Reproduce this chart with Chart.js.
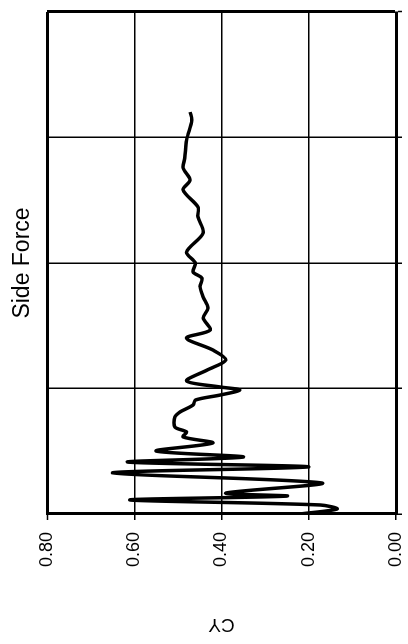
<!DOCTYPE html>
<html>
<head>
<meta charset="utf-8">
<script src="https://cdn.jsdelivr.net/npm/chart.js@4/dist/chart.umd.min.js"></script>
<style>
  html, body { margin: 0; padding: 0; background: #fff; overflow: hidden; }
  /* chart is drawn landscape, then turned a quarter left like the scan */
  #wrap {
    position: absolute; left: 0; top: 0;
    width: 644px; height: 408px;
    transform-origin: 0 0;
    transform: translateY(644px) rotate(-90deg);
  }
</style>
</head>
<body>
<div id="wrap"><canvas id="sideForceChart" width="644" height="408"></canvas></div>
<script>
  const timeSteps = [
    0, 0.040, 0.072, 0.112, 0.143, 0.167, 0.247, 0.327, 0.375, 0.414,
    0.454, 0.502, 0.566, 0.614, 0.653, 0.693, 0.773, 0.813, 0.869, 0.908,
    0.948, 0.988, 1.012, 1.060, 1.147, 1.227, 1.307, 1.402, 1.466, 1.562,
    1.641, 1.729, 1.809, 1.880, 1.928, 2.000, 2.088, 2.239, 2.367, 2.446,
    2.582, 2.661, 2.757, 2.837, 2.980, 3.139, 3.203
  ];

  const cyValues = [
    0.22, 0.135, 0.174, 0.61, 0.25, 0.39, 0.17, 0.65, 0.20, 0.615,
    0.35, 0.55, 0.42, 0.488, 0.48, 0.507, 0.507, 0.495, 0.465, 0.46,
    0.403, 0.358, 0.403, 0.48, 0.433, 0.39, 0.42, 0.48, 0.426, 0.442,
    0.431, 0.442, 0.449, 0.445, 0.465, 0.46, 0.48, 0.442, 0.454, 0.454,
    0.488, 0.472, 0.488, 0.484, 0.48, 0.468, 0.472
  ];

  const cyTicks = [0.0, 0.2, 0.4, 0.6, 0.8];
  const timeTicks = [0, 1, 2, 3, 4];

  Chart.defaults.font.family = '"Liberation Sans", Arial, sans-serif';
  Chart.defaults.color = '#000';

  const points = timeSteps.map((t, i) => ({ x: t, y: cyValues[i] }));

  const ctx = document.getElementById('sideForceChart').getContext('2d');

  const sideForceChart = new Chart(ctx, {
    type: 'line',
    data: {
      datasets: [
        {
          label: 'CY',
          data: points,
          borderColor: '#000',
          borderWidth: 3.5,
          pointRadius: 0,
          fill: false,
          tension: 0.3
        }
      ]
    },
    options: {
      responsive: false,
      animation: false,
      layout: {
        padding: { left: 0, right: 12, top: 0, bottom: 0 }
      },
      plugins: {
        legend: { display: false },
        tooltip: { enabled: false },
        title: {
          display: true,
          text: 'Side Force',
          fullSize: false,
          font: { size: 23, weight: 'normal' },
          padding: { top: 9, bottom: 10.4 }
        }
      },
      scales: {
        x: {
          type: 'linear',
          min: 0,
          max: 4,
          afterBuildTicks: s => { s.ticks = timeTicks.map(v => ({ value: v })); },
          afterFit: s => { s.height = 12; },
          ticks: { display: false },
          border: { color: '#000', width: 3 },
          grid: {
            color: '#000',
            lineWidth: c => (c.index === timeTicks.length - 1 ? 3 : 1.5),
            tickLength: 6,
            tickWidth: 1.5,
            tickColor: '#000'
          }
        },
        y: {
          type: 'linear',
          min: 0,
          max: 0.8,
          afterBuildTicks: s => { s.ticks = cyTicks.map(v => ({ value: v })); },
          afterFit: s => {
            s.width = 130;
            // let the end labels hang past the plot, as in the scan
            s.paddingTop = 0;
            s.paddingBottom = 0;
          },
          ticks: {
            padding: 12,
            font: { size: 18 },
            callback: v => v.toFixed(2)
          },
          title: {
            display: true,
            text: 'CY',
            font: { size: 19 },
            padding: { top: 8, bottom: 0 }
          },
          border: { color: '#000', width: 3 },
          grid: {
            color: '#000',
            lineWidth: c => (c.index === cyTicks.length - 1 ? 3 : 1.5),
            tickLength: 6,
            tickWidth: 1.5,
            tickColor: '#000'
          }
        }
      }
    }
  });
</script>
</body>
</html>
